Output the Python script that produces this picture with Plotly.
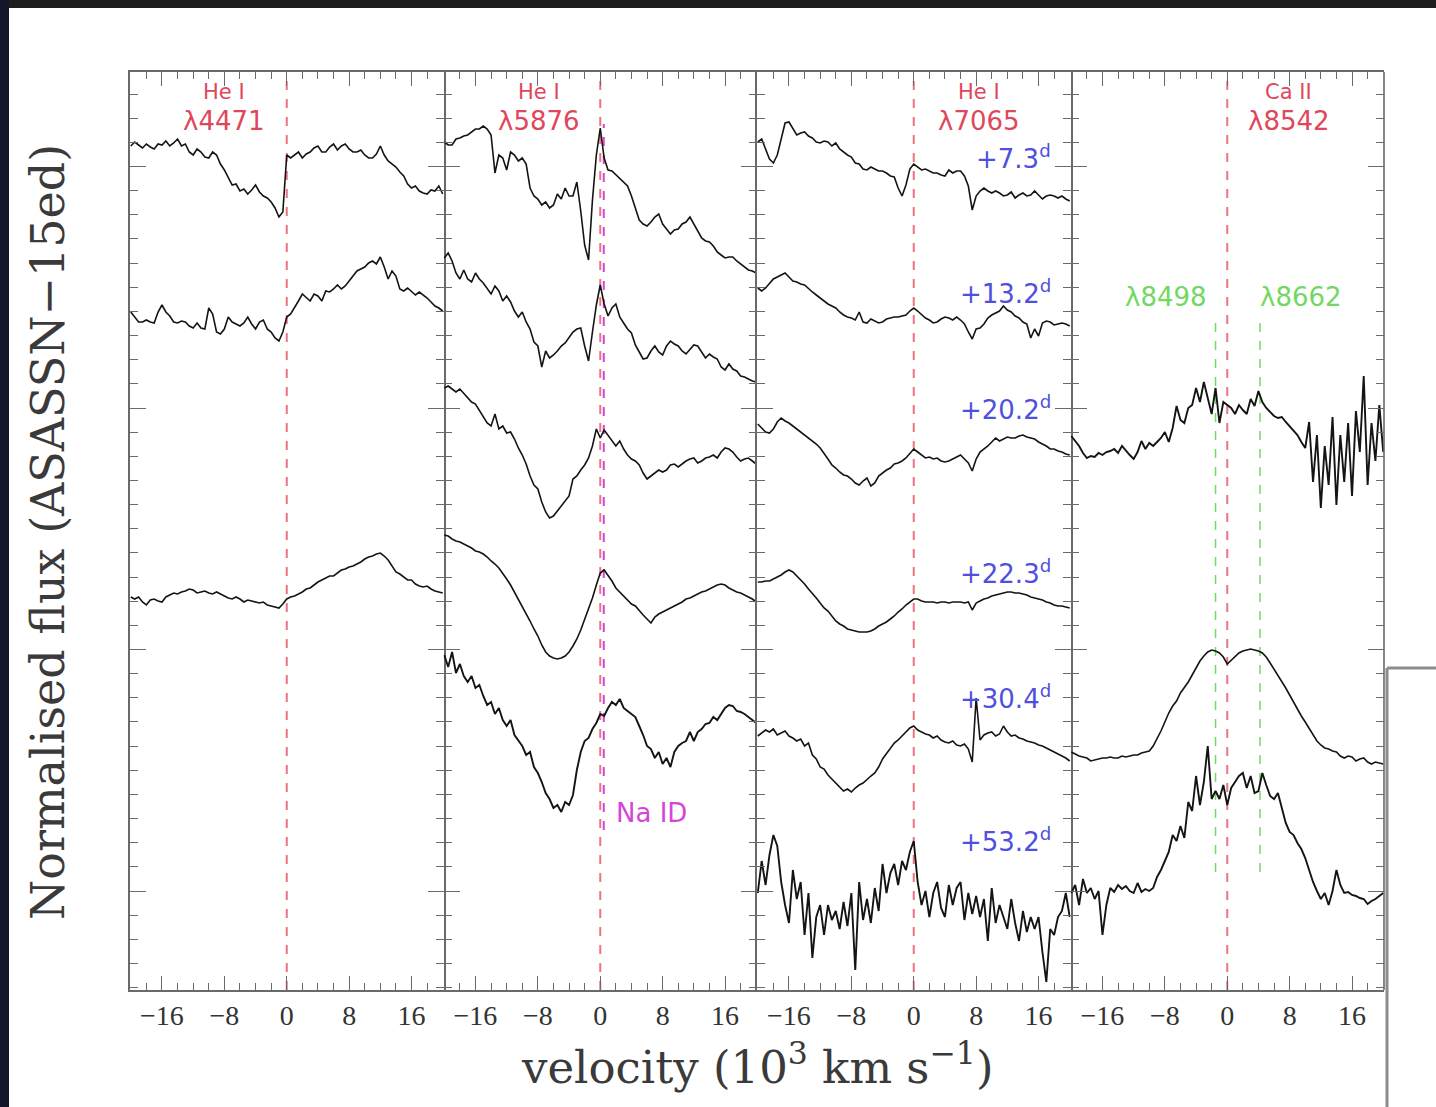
import plotly.graph_objects as go
from plotly.subplots import make_subplots

# ---------------- data (velocity in 10^3 km/s, flux in arbitrary offset units) ----------------
VEL = [-20.0, -19.5, -19.0, -18.5, -18.0, -17.5, -17.0, -16.5, -16.0, -15.5,
       -15.0, -14.5, -14.0, -13.5, -13.0, -12.5, -12.0, -11.5, -11.0, -10.5,
       -10.0, -9.5, -9.0, -8.5, -8.0, -7.5, -7.0, -6.5, -6.0, -5.5,
       -5.0, -4.5, -4.0, -3.5, -3.0, -2.5, -2.0, -1.5, -1.0, -0.5,
       0.0, 0.5, 1.0, 1.5, 2.0, 2.5, 3.0, 3.5, 4.0, 4.5,
       5.0, 5.5, 6.0, 6.5, 7.0, 7.5, 8.0, 8.5, 9.0, 9.5,
       10.0, 10.5, 11.0, 11.5, 12.0, 12.5, 13.0, 13.5, 14.0, 14.5,
       15.0, 15.5, 16.0, 16.5, 17.0, 17.5, 18.0, 18.5, 19.0, 19.5,
       20.0]

# He I 4471
HE4471_D073 = [844, 848, 845, 842, 846, 843, 841, 846, 845, 849,
               844, 847, 851, 844, 846, 838, 835, 841, 838, 833,
               832, 838, 835, 826, 820, 812, 805, 806, 799, 801,
               796, 800, 805, 798, 794, 792, 788, 782, 773, 778,
               835, 832, 835, 838, 832, 836, 838, 842, 844, 838,
               838, 843, 846, 840, 844, 846, 841, 838, 838, 840,
               835, 832, 832, 836, 844, 835, 829, 826, 823, 818,
               814, 806, 802, 804, 799, 797, 796, 800, 799, 804,
               796]
HE4471_D132 = [678, 673, 668, 668, 670, 668, 667, 678, 685, 678,
               674, 668, 667, 669, 668, 664, 662, 667, 662, 661,
               682, 676, 658, 656, 661, 673, 668, 666, 664, 667,
               673, 666, 661, 668, 670, 661, 658, 652, 649, 658,
               673, 676, 682, 689, 696, 692, 689, 696, 694, 689,
               699, 698, 701, 705, 701, 704, 709, 714, 719, 721,
               723, 727, 729, 726, 733, 723, 711, 719, 714, 701,
               699, 702, 698, 695, 698, 695, 692, 688, 684, 682,
               679]
HE4471_D223 = [393, 391, 393, 388, 385, 390, 391, 389, 388, 393,
               395, 397, 396, 398, 399, 401, 400, 397, 398, 399,
               397, 396, 398, 396, 394, 392, 391, 393, 391, 388,
               390, 389, 388, 387, 388, 385, 384, 383, 382, 386,
               391, 393, 394, 396, 398, 401, 402, 405, 408, 410,
               412, 414, 414, 417, 420, 421, 423, 424, 426, 428,
               431, 433, 434, 436, 437, 434, 430, 424, 418, 416,
               413, 410, 410, 406, 404, 403, 404, 401, 399, 398,
               397]

# He I 5876
HE5876_D073 = [848, 845, 845, 851, 852, 854, 855, 858, 861, 861,
               864, 861, 855, 817, 835, 832, 820, 838, 835, 829,
               832, 826, 802, 794, 791, 785, 788, 782, 785, 796,
               791, 802, 794, 794, 808, 779, 745, 730, 790, 835,
               862, 832, 820, 819, 815, 811, 808, 804, 794, 782,
               770, 766, 764, 768, 773, 776, 766, 761, 756, 760,
               761, 766, 768, 773, 766, 758, 752, 749, 748, 744,
               738, 735, 732, 733, 733, 729, 726, 723, 720, 719,
               717]
HE5876_D132 = [732, 737, 729, 717, 711, 720, 711, 708, 717, 711,
               707, 701, 696, 704, 699, 689, 694, 688, 679, 673,
               678, 668, 661, 648, 644, 623, 639, 632, 635, 639,
               644, 647, 652, 658, 661, 662, 644, 629, 658, 685,
               705, 686, 674, 682, 686, 673, 667, 661, 657, 645,
               638, 631, 632, 639, 644, 638, 635, 644, 649, 646,
               644, 639, 636, 641, 645, 644, 638, 632, 636, 633,
               631, 623, 620, 626, 621, 619, 614, 613, 611, 609,
               608]
HE5876_D202 = [602, 604, 601, 598, 601, 597, 592, 588, 586, 580,
               573, 567, 564, 576, 561, 564, 557, 558, 551, 542,
               535, 526, 514, 505, 501, 488, 478, 472, 474, 479,
               485, 489, 494, 511, 514, 520, 525, 532, 544, 561,
               552, 560, 555, 549, 544, 549, 541, 535, 531, 529,
               525, 517, 511, 514, 517, 520, 518, 520, 525, 526,
               523, 526, 529, 531, 532, 527, 529, 532, 533, 535,
               532, 538, 542, 541, 538, 533, 529, 531, 532, 529,
               526]
HE5876_D223 = [455, 454, 451, 449, 448, 446, 444, 442, 439, 438,
               436, 433, 429, 426, 422, 417, 411, 405, 398, 391,
               384, 377, 369, 361, 354, 345, 338, 334, 332, 331,
               332, 334, 338, 344, 351, 360, 370, 382, 392, 405,
               417, 420, 415, 409, 402, 398, 393, 389, 386, 384,
               379, 375, 371, 367, 373, 376, 378, 380, 382, 384,
               386, 388, 391, 392, 394, 396, 398, 399, 401, 403,
               405, 406, 405, 402, 400, 398, 397, 395, 393, 391,
               388]
HE5876_D304 = [335, 323, 338, 317, 326, 314, 308, 314, 302, 305,
               294, 285, 288, 276, 282, 270, 264, 270, 255, 249,
               244, 235, 238, 223, 217, 208, 197, 191, 182, 185,
               178, 188, 185, 195, 220, 238, 249, 252, 261, 267,
               276, 274, 282, 288, 285, 291, 282, 279, 276, 273,
               264, 255, 244, 241, 232, 238, 226, 232, 223, 238,
               244, 247, 249, 258, 249, 258, 261, 266, 267, 273,
               270, 276, 282, 285, 284, 279, 278, 276, 273, 270,
               267]

# He I 7065
HE7065_D073 = [848, 851, 841, 831, 827, 835, 851, 867, 868, 861,
               855, 857, 858, 854, 852, 848, 847, 849, 848, 844,
               847, 841, 838, 835, 833, 827, 826, 821, 820, 823,
               821, 819, 819, 817, 814, 813, 802, 794, 805, 821,
               826, 823, 820, 821, 819, 817, 817, 815, 814, 820,
               817, 819, 819, 814, 804, 780, 794, 799, 802, 799,
               797, 799, 797, 794, 795, 798, 792, 795, 797, 794,
               795, 799, 795, 791, 794, 795, 794, 792, 794, 791,
               789]
HE7065_D132 = [702, 699, 702, 707, 711, 713, 715, 717, 713, 709,
               708, 706, 705, 701, 698, 695, 692, 689, 686, 684,
               682, 678, 675, 673, 672, 670, 678, 668, 667, 671,
               669, 667, 668, 671, 672, 673, 673, 674, 675, 679,
               682, 679, 675, 672, 670, 667, 668, 671, 673, 672,
               670, 673, 670, 666, 658, 651, 661, 662, 666, 672,
               675, 677, 679, 684, 680, 678, 674, 672, 668, 666,
               652, 661, 654, 667, 669, 668, 665, 666, 667, 666,
               664]
HE7065_D202 = [566, 562, 558, 557, 561, 568, 572, 569, 567, 564,
               561, 558, 555, 552, 549, 546, 542, 537, 531, 525,
               522, 518, 515, 514, 511, 507, 505, 509, 512, 504,
               507, 514, 517, 520, 522, 526, 527, 529, 532, 537,
               541, 538, 535, 532, 533, 531, 532, 529, 528, 529,
               531, 533, 535, 531, 527, 519, 531, 538, 541, 544,
               548, 552, 549, 551, 553, 552, 552, 554, 555, 553,
               552, 551, 548, 546, 544, 541, 541, 539, 538, 536,
               535]
HE7065_D223 = [408, 408, 409, 409, 411, 413, 415, 418, 420, 418,
               414, 411, 406, 401, 397, 392, 387, 382, 379, 374,
               369, 366, 364, 361, 360, 359, 358, 358, 358, 359,
               361, 364, 366, 368, 371, 374, 378, 381, 385, 388,
               391, 391, 389, 388, 388, 388, 387, 388, 388, 387,
               388, 388, 388, 387, 388, 380, 387, 389, 391, 392,
               394, 395, 396, 397, 398, 398, 397, 397, 396, 395,
               393, 392, 391, 390, 388, 387, 385, 384, 384, 383,
               382]
HE7065_D304 = [254, 257, 260, 258, 261, 255, 257, 259, 254, 252,
               249, 251, 244, 247, 235, 231, 223, 221, 215, 211,
               207, 204, 199, 201, 198, 202, 205, 207, 211, 214,
               217, 223, 231, 236, 241, 247, 250, 254, 258, 262,
               264, 260, 258, 256, 255, 252, 254, 250, 248, 247,
               249, 245, 244, 246, 241, 228, 292, 250, 255, 257,
               258, 254, 256, 264, 258, 254, 255, 252, 251, 249,
               248, 247, 245, 244, 242, 240, 238, 236, 234, 232,
               229]
HE7065_D532 = [97, 129, 105, 135, 155, 144, 108, 85, 67, 120,
               91, 108, 55, 97, 32, 73, 85, 55, 85, 70,
               79, 61, 88, 64, 97, 20, 108, 70, 91, 67,
               102, 79, 126, 97, 117, 126, 105, 129, 120, 138,
               149, 108, 85, 99, 73, 97, 108, 82, 73, 105,
               85, 102, 108, 70, 97, 76, 94, 73, 91, 49,
               102, 67, 85, 73, 61, 91, 67, 49, 79, 58,
               73, 61, 73, 38, 8, 61, 55, 73, 79, 97,
               73]

# Ca II 8542
CA8542_D202 = [554, 549, 544, 537, 532, 534, 533, 537, 535, 538,
               539, 541, 537, 544, 539, 535, 531, 538, 549, 541,
               547, 544, 548, 552, 558, 548, 562, 584, 570, 567,
               582, 585, 602, 588, 608, 591, 576, 602, 567, 588,
               585, 582, 576, 585, 580, 576, 591, 584, 599, 588,
               582, 578, 574, 572, 573, 568, 564, 560, 555, 548,
               542, 568, 508, 555, 482, 544, 505, 573, 485, 555,
               508, 567, 494, 579, 538, 614, 505, 567, 529, 585,
               538]
CA8542_D304 = [238, 236, 234, 233, 232, 229, 230, 231, 232, 232,
               233, 232, 232, 234, 233, 234, 235, 235, 237, 238,
               239, 244, 251, 259, 268, 277, 284, 289, 297, 302,
               308, 315, 322, 329, 334, 338, 340, 339, 337, 333,
               326, 330, 333, 337, 339, 340, 341, 340, 339, 337,
               333, 327, 321, 314, 308, 302, 295, 288, 280, 274,
               268, 262, 255, 249, 245, 242, 241, 239, 238, 234,
               232, 234, 233, 229, 231, 232, 228, 226, 228, 227,
               226]
CA8542_D532 = [97, 105, 85, 111, 97, 102, 91, 99, 55, 85,
               102, 98, 105, 101, 104, 99, 97, 107, 98, 101,
               99, 102, 113, 120, 129, 138, 155, 149, 164, 152,
               188, 179, 214, 185, 208, 244, 191, 199, 191, 205,
               185, 202, 208, 214, 217, 202, 214, 197, 199, 217,
               205, 194, 191, 197, 182, 167, 158, 155, 147, 141,
               132, 120, 108, 99, 91, 97, 85, 99, 120, 105,
               97, 98, 95, 94, 92, 91, 86, 89, 91, 94,
               97]

ION_NAMES = ["He I", "He I", "He I", "Ca II"]
LINE_WAVES = ["λ4471", "λ5876", "λ7065", "λ8542"]
EPOCHS = ["+7.3", "+13.2", "+20.2", "+22.3", "+30.4", "+53.2"]
REST_VEL = [0.0, 0.0, 0.0, 0.0]
NAID_VEL = 0.45
CA_TRIPLET_NAMES = ["λ8498", "λ8662"]
CA_TRIPLET_VEL = [-1.5, 4.2]

PANELS = [
    [HE4471_D073, HE4471_D132, HE4471_D223],
    [HE5876_D073, HE5876_D132, HE5876_D202, HE5876_D223, HE5876_D304],
    [HE7065_D073, HE7065_D132, HE7065_D202, HE7065_D223, HE7065_D304, HE7065_D532],
    [CA8542_D202, CA8542_D304, CA8542_D532],
]
NOISY = [HE5876_D304, HE7065_D532, CA8542_D202, CA8542_D532]

# ---------------- layout constants ----------------
W, H = 1436, 1107
ML, MR, MT, MB = 130, 52, 72, 117
PW, PH = W - ML - MR, H - MT - MB
YMAX = 918
AX = "#6a6a6a"
RED = "#e0475a"
RED_LINE = "#ec7480"
BLUE = "#4f4fe0"
MAGENTA = "#d445d8"
GREEN = "#72d862"


def pxx(px):
    return (px - ML) / PW


def pxy(py):
    return (H - MB - py) / PH


fig = make_subplots(rows=1, cols=4, shared_yaxes=True, horizontal_spacing=0)

for i, spectra in enumerate(PANELS):
    for flux in spectra:
        lw = 1.9 if any(flux is s for s in NOISY) else 1.6
        fig.add_trace(go.Scatter(x=VEL, y=flux, mode="lines",
                                 line=dict(color="#141414", width=lw),
                                 hoverinfo="skip", showlegend=False),
                      row=1, col=i + 1)

xrefs = ["x", "x2", "x3", "x4"]

# rest-velocity dashed lines
for i, v in enumerate(REST_VEL):
    fig.add_shape(type="line", xref=xrefs[i], yref="y domain", x0=v, x1=v, y0=0, y1=1,
                  line=dict(color=RED_LINE, width=2, dash="dash"), layer="below")
# Na I D marker
fig.add_shape(type="line", xref="x2", yref="y", x0=NAID_VEL, x1=NAID_VEL, y0=160, y1=866,
              line=dict(color=MAGENTA, width=2, dash="dash"), layer="below")
# Ca II triplet components
for v in CA_TRIPLET_VEL:
    fig.add_shape(type="line", xref="x4", yref="y", x0=v, x1=v, y0=118, y1=675,
                  line=dict(color=GREEN, width=1.5, dash="dash"), layer="below")

LABEL_FONT = "DejaVu Sans"
ion_x = [-8.1, -7.9, 8.4, 7.9]
for i in range(4):
    fig.add_annotation(xref=xrefs[i], yref="y", x=ion_x[i], y=898, text=ION_NAMES[i],
                       showarrow=False, yanchor="middle",
                       font=dict(family=LABEL_FONT, size=21, color=RED))
    fig.add_annotation(xref=xrefs[i], yref="y", x=ion_x[i], y=869, text=LINE_WAVES[i],
                       showarrow=False, yanchor="middle",
                       font=dict(family=LABEL_FONT, size=26, color=RED))

epoch_y = [833, 698, 582, 418, 293, 150]
for lab, yy in zip(EPOCHS, epoch_y):
    fig.add_annotation(xref="x3", yref="y", x=17.9, y=yy, xanchor="right", yanchor="middle",
                       text=lab + "<sup>d</sup>", showarrow=False,
                       font=dict(family=LABEL_FONT, size=26, color=BLUE))

fig.add_annotation(xref="x2", yref="y", x=1.8, y=177, xanchor="left", yanchor="middle",
                   text="Na ID", showarrow=False,
                   font=dict(family=LABEL_FONT, size=26, color=MAGENTA))

for name, xx in zip(CA_TRIPLET_NAMES, [-7.9, 9.4]):
    fig.add_annotation(xref="x4", yref="y", x=xx, y=693, text=name, showarrow=False,
                       yanchor="middle",
                       font=dict(family=LABEL_FONT, size=26, color=GREEN))

# axis titles
fig.add_annotation(xref="paper", yref="paper", x=pxx(757), y=pxy(1064),
                   xanchor="center", yanchor="middle",
                   text="velocity (10<sup>3</sup> km s<sup>−1</sup>)", showarrow=False,
                   font=dict(family="DejaVu Serif", size=45, color="#3a3a3a"))
fig.add_annotation(xref="paper", yref="paper", x=pxx(48), y=pxy(532), textangle=-90,
                   xanchor="center", yanchor="middle",
                   text="Normalised flux (ASASSN−15ed)", showarrow=False,
                   font=dict(family="DejaVu Serif", size=46, color="#3a3a3a"))

# screenshot framing
fig.add_shape(type="rect", xref="paper", yref="paper", x0=pxx(0), x1=pxx(W), y0=pxy(0), y1=pxy(8),
              fillcolor="#1e1e1e", line=dict(width=0), layer="above")
fig.add_shape(type="rect", xref="paper", yref="paper", x0=pxx(0), x1=pxx(9), y0=pxy(0), y1=pxy(H),
              fillcolor="#14142a", line=dict(width=0), layer="above")
fig.add_shape(type="line", xref="paper", yref="paper", x0=pxx(1387), x1=pxx(1387), y0=pxy(668), y1=pxy(H),
              line=dict(color="#8c8c8c", width=3), layer="above")
fig.add_shape(type="line", xref="paper", yref="paper", x0=pxx(1387), x1=pxx(W), y0=pxy(668), y1=pxy(668),
              line=dict(color="#8c8c8c", width=3), layer="above")

fig.update_xaxes(range=[-20.1, 20.1], tickmode="linear", tick0=0, dtick=8,
                 ticks="inside", ticklen=14, tickwidth=1.3, tickcolor=AX,
                 showline=True, linecolor=AX, linewidth=1.6, mirror="ticks",
                 showgrid=False, zeroline=False,
                 minor=dict(ticks="inside", tickmode="linear", tick0=0, dtick=2,
                            ticklen=7, tickwidth=1.1, tickcolor=AX, showgrid=False),
                 tickfont=dict(family="Liberation Serif", size=28, color="#333333"))
fig.update_yaxes(range=[0, YMAX], tickmode="linear", tick0=99, dtick=241.5,
                 ticks="inside", ticklen=16, tickwidth=1.3, tickcolor=AX,
                 linecolor=AX, linewidth=1.6, mirror="ticks",
                 showgrid=False, zeroline=False, showticklabels=False,
                 minor=dict(ticks="inside", tickmode="linear", tick0=99, dtick=24.15,
                            ticklen=8, tickwidth=1.1, tickcolor=AX, showgrid=False))
# single frame line at each panel boundary (avoid doubled lines)
fig.update_yaxes(showline=True, row=1, col=1)
fig.update_yaxes(showline=False, row=1, col=2)
fig.update_yaxes(showline=True, row=1, col=3)
fig.update_yaxes(showline=False, row=1, col=4)
fig.add_shape(type="line", xref="x4 domain", yref="y domain", x0=1, x1=1, y0=0, y1=1,
              line=dict(color=AX, width=1.6), layer="above")

fig.update_layout(width=W, height=H, margin=dict(l=ML, r=MR, t=MT, b=MB, pad=0),
                  plot_bgcolor="white", paper_bgcolor="white", showlegend=False)

fig.write_html("out.html")
